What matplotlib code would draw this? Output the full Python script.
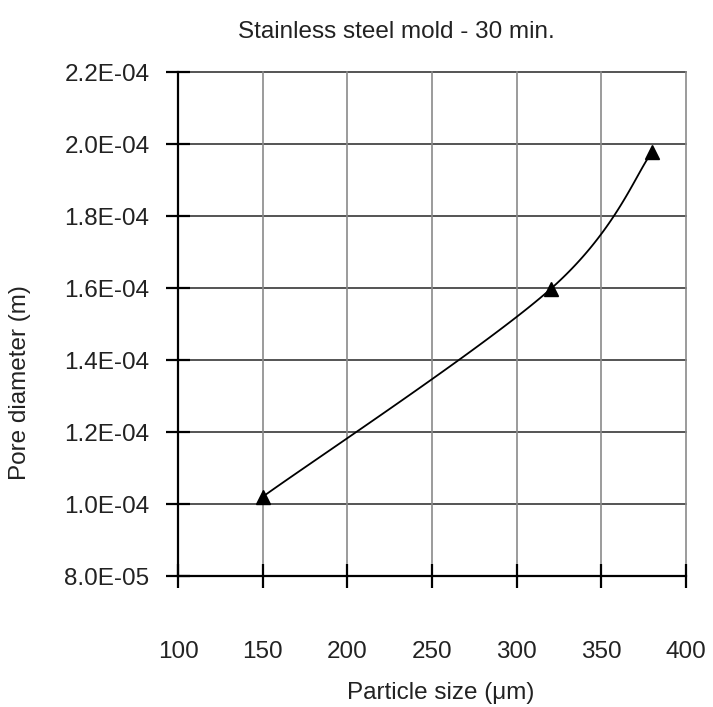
import numpy as np
import matplotlib
matplotlib.use('Agg')
import matplotlib.pyplot as plt
from matplotlib.ticker import FuncFormatter

# data
particle_size = [150, 320, 380]          # um
pore_diameter = [1.02e-4, 1.597e-4, 1.978e-4]  # m

x_ticks = [100, 150, 200, 250, 300, 350, 400]
y_ticks = [8.0e-5, 1.0e-4, 1.2e-4, 1.4e-4, 1.6e-4, 1.8e-4, 2.0e-4, 2.2e-4]

plt.rcParams['font.family'] = ['Liberation Sans', 'DejaVu Sans']
fs = 17.5


def excel_smooth(xs, ys, xlim, ylim, n=60):
    # Excel-like smoothed line: cubic bezier, control points at 1/6 of neighbour span
    px = (np.asarray(xs) - xlim[0]) / (xlim[1] - xlim[0])
    py = (np.asarray(ys) - ylim[0]) / (ylim[1] - ylim[0])
    P = np.column_stack([px, py])
    out = [P[0]]
    t = np.linspace(0, 1, n)[1:, None]
    for i in range(len(P) - 1):
        p0 = P[i - 1] if i > 0 else P[i]
        p1, p2 = P[i], P[i + 1]
        p3 = P[i + 2] if i + 2 < len(P) else P[i + 1]
        c1 = p1 + (p2 - p0) / 6
        c2 = p2 - (p3 - p1) / 6
        seg = ((1 - t) ** 3) * p1 + 3 * ((1 - t) ** 2) * t * c1 + 3 * (1 - t) * t ** 2 * c2 + t ** 3 * p2
        out.extend(seg)
    out = np.array(out)
    return (xlim[0] + out[:, 0] * (xlim[1] - xlim[0]),
            ylim[0] + out[:, 1] * (ylim[1] - ylim[0]))


xlim = (100, 400)
ylim = (8.0e-5, 2.2e-4)

fig = plt.figure(figsize=(7.13, 7.07), dpi=100)
ax = fig.add_axes([178 / 713, 1 - 576 / 707, 508 / 713, 504 / 707])

sx, sy = excel_smooth(particle_size, pore_diameter, xlim, ylim)
ax.plot(sx, sy, color='black', lw=1.3, zorder=3)
ax.plot(particle_size, pore_diameter, linestyle='none', marker='^',
        markersize=10, color='black', zorder=4, clip_on=False)

ax.set_xlim(*xlim)
ax.set_ylim(*ylim)
ax.set_xticks(x_ticks)
ax.set_yticks(y_ticks)
ax.yaxis.set_major_formatter(FuncFormatter(lambda v, p: f"{v:.1E}"))

for yv in y_ticks[1:]:
    ax.axhline(yv, color='#262626', lw=1.1, zorder=1, clip_on=False)
for xv in x_ticks[1:]:
    ax.axvline(xv, color='#8a8a8a', lw=1.2, zorder=1, clip_on=False)

ax.spines['top'].set_visible(False)
ax.spines['right'].set_visible(False)
ax.spines['left'].set_linewidth(1.6)
ax.spines['bottom'].set_linewidth(1.6)

ax.tick_params(axis='both', direction='inout', length=17, width=1.6,
               labelsize=fs, colors='black')
ax.tick_params(axis='y', pad=12)
ax.tick_params(axis='x', pad=38)
for lab in ax.get_xticklabels() + ax.get_yticklabels():
    lab.set_color('#222222')

fig.text(396 / 713, 1 - 38 / 707, 'Stainless steel mold - 30 min.',
         ha='center', va='baseline', fontsize=fs, color='#222222')
fig.text(441 / 713, 1 - 699 / 707, 'Particle size (\u03bcm)',
         ha='center', va='baseline', fontsize=fs, color='#222222')
fig.text(20 / 713, 324 / 707, 'Pore diameter (m)', rotation=90,
         ha='center', va='center', fontsize=fs, color='#222222')

fig.savefig('out.png', dpi=100)
